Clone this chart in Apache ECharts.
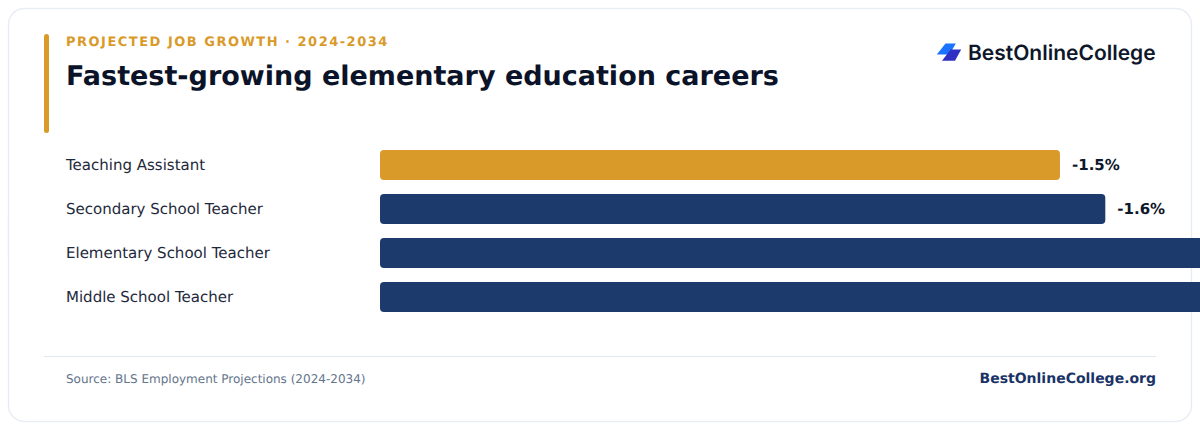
<!DOCTYPE html>
<html>
<head>
<meta charset="utf-8">
<style>
  html, body { margin: 0; padding: 0; background: #fff; }
  #chart { width: 1200px; height: 430px; }
  #chart text { text-rendering: geometricPrecision; }
  /* the eyebrow line is spaced out, echarts has no letter spacing option */
  #chart text[fill="#d99a29"] { letter-spacing: 1.5px; }
</style>
<script src="https://cdn.jsdelivr.net/npm/echarts@6/dist/echarts.min.js"></script>
</head>
<body>
<div id="chart"></div>
<script>
var categories = ['Teaching Assistant', 'Secondary School Teacher', 'Elementary School Teacher', 'Middle School Teacher'];
// last two run off the page in the picture, their values are estimates
var growth = [-1.5, -1.6, -2.0, -2.1];
var barColors = ['#d99a29', '#1c3a6b', '#1c3a6b', '#1c3a6b'];
var showValue = [true, true, false, false];

var FONT = '"DejaVu Sans", sans-serif';
var chart = echarts.init(document.getElementById('chart'), null, { renderer: 'svg' });

var option = {
  animation: false,
  backgroundColor: '#fff',
  // the plot is wider than the page, the long bars get cut by the page edge
  grid: { left: 380, top: 143, width: 997.3, height: 176, outerBoundsMode: 'none' },
  xAxis: {
    type: 'value',
    min: -2.2,
    max: 0,
    inverse: true,
    show: false
  },
  yAxis: {
    type: 'category',
    inverse: true,
    data: categories,
    axisLine: { show: false },
    axisTick: { show: false },
    axisLabel: {
      align: 'left',
      margin: 314,
      fontFamily: FONT,
      fontSize: 15,
      color: '#1e293b'
    }
  },
  series: [{
    type: 'bar',
    barWidth: 30,
    clip: false,
    z: 5,
    data: growth.map(function (v, i) {
      return {
        value: v,
        itemStyle: { color: barColors[i], borderRadius: 4 },
        label: { show: showValue[i] }
      };
    }),
    label: {
      show: true,
      position: 'right',
      distance: 12,
      formatter: function (p) { return p.value.toFixed(1) + '%'; },
      fontFamily: FONT,
      fontSize: 15,
      fontWeight: 'bold',
      color: '#0f172a'
    }
  }],
  graphic: [
    { type: 'rect', z: 0, shape: { x: 8.5, y: 8.5, width: 1183, height: 413, r: 16 }, style: { fill: '#fff', stroke: '#e8edf5', lineWidth: 1.5 } },
    { type: 'rect', z: 1, shape: { x: 44, y: 34, width: 5, height: 99, r: 2.5 }, style: { fill: '#d99a29' } },
    { type: 'text', z: 1, x: 66, y: 36, style: { text: 'PROJECTED JOB GROWTH · 2024-2034', fill: '#d99a29', font: 'bold 13px ' + FONT } },
    { type: 'text', z: 1, x: 66, y: 63, style: { text: 'Fastest-growing elementary education careers', fill: '#0b1329', font: 'bold 27px ' + FONT } },
    { type: 'polygon', z: 1, shape: { points: [[945.5, 43.5], [955.8, 43.5], [949.5, 54.5], [936.8, 54.5]] }, style: { fill: '#1a73ff' } },
    { type: 'polygon', z: 1, shape: { points: [[950.7, 49.5], [961.2, 49.5], [955, 60.7], [942, 60.7]] }, style: { fill: '#2f2fc4' } },
    { type: 'text', z: 1, x: 968, y: 42.5, style: { text: 'BestOnlineCollege', fill: '#0f172a', font: '600 21px Inter, sans-serif' } },
    { type: 'line', z: 1, shape: { x1: 44, y1: 356.5, x2: 1156, y2: 356.5 }, style: { stroke: '#e2e8f0', lineWidth: 1 } },
    { type: 'text', z: 1, x: 66, y: 373, style: { text: 'Source: BLS Employment Projections (2024-2034)', fill: '#64748b', font: '12px ' + FONT } },
    { type: 'text', z: 1, x: 1156, y: 372, style: { text: 'BestOnlineCollege.org', align: 'right', fill: '#1a3366', font: 'bold 14px ' + FONT } }
  ]
};
chart.setOption(option);
</script>
</body>
</html>
